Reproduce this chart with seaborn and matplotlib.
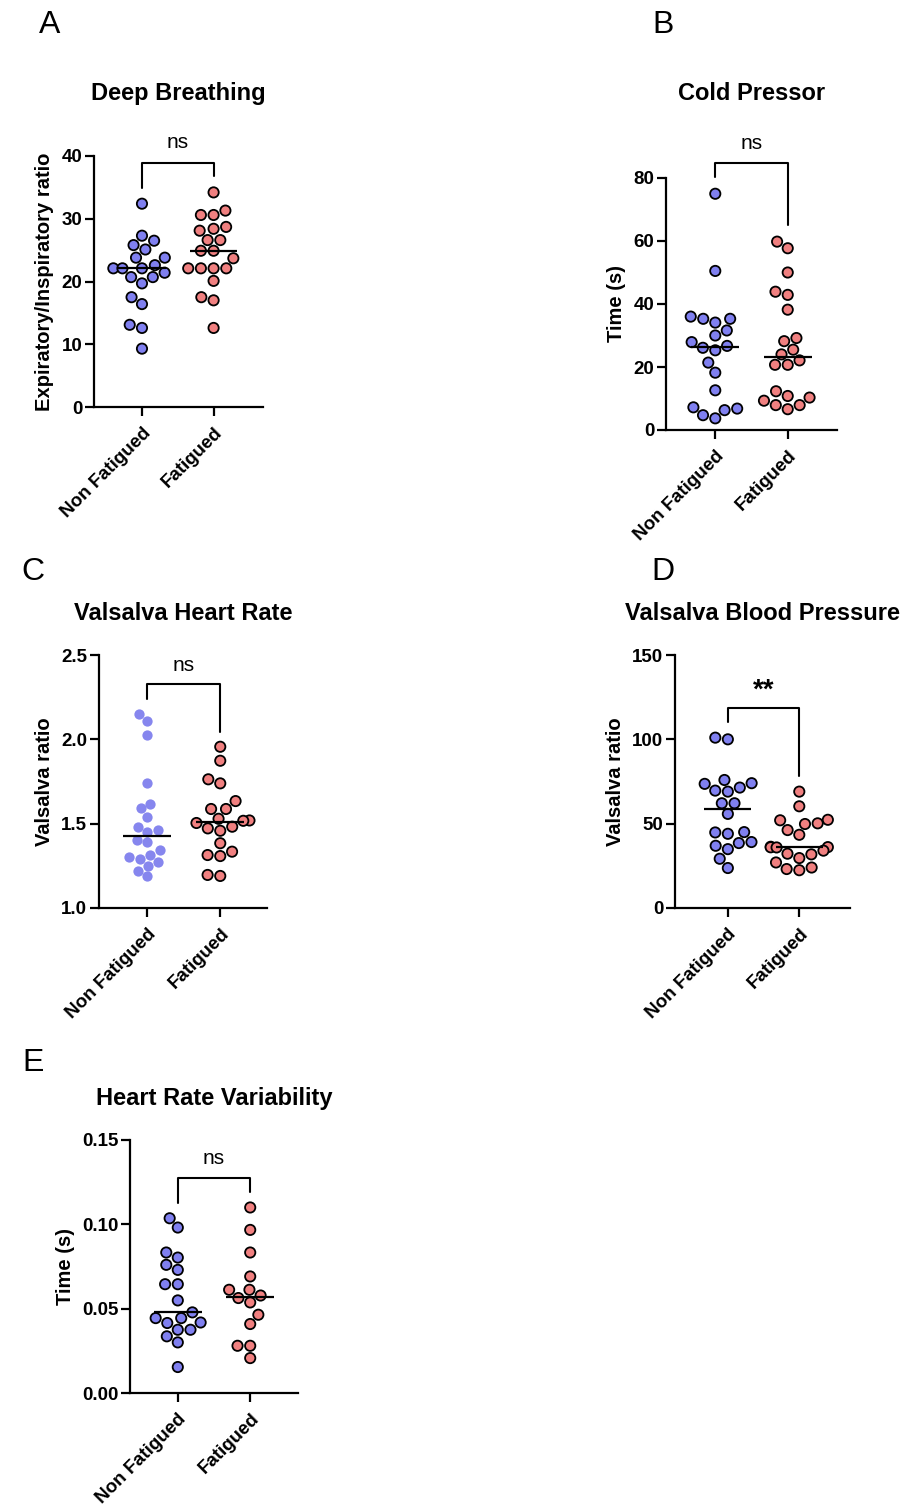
import numpy as np
import pandas as pd
import matplotlib
matplotlib.use('Agg')
import matplotlib.pyplot as plt
import seaborn as sns
import warnings
warnings.filterwarnings('ignore')

sns.set_theme(style='ticks')
plt.rcParams['font.family'] = ['Liberation Sans', 'DejaVu Sans']
plt.rcParams['text.color'] = 'black'
plt.rcParams['axes.labelcolor'] = 'black'
plt.rcParams['axes.titlecolor'] = 'black'

groups = ['Non Fatigued', 'Fatigued']

deep_nf = [32.4, 27.3, 26.5, 25.8, 25.1, 23.8, 23.8, 22.6, 22.1, 22.1, 22.1, 21.4, 20.7, 20.7, 19.7, 17.5, 16.4, 13.1, 12.6, 9.3]
deep_f = [34.2, 31.3, 30.6, 30.6, 28.7, 28.4, 28.1, 26.6, 26.6, 24.9, 24.9, 23.7, 22.1, 22.1, 22.1, 22.1, 20.1, 17.5, 17.0, 12.6]
cold_nf = [75.0, 50.5, 36.0, 35.3, 35.3, 34.1, 31.6, 30.0, 27.9, 26.7, 26.1, 25.3, 21.4, 18.2, 12.6, 7.2, 6.8, 6.3, 4.7, 3.7]
cold_f = [59.8, 57.7, 50.0, 43.9, 42.9, 38.2, 29.2, 28.2, 25.5, 24.0, 22.1, 20.7, 20.7, 12.3, 10.8, 10.3, 9.3, 7.9, 7.9, 6.6]
vhr_nf = [2.150, 2.110, 2.024, 1.744, 1.615, 1.590, 1.542, 1.483, 1.460, 1.450, 1.404, 1.389, 1.341, 1.316, 1.302, 1.292, 1.270, 1.250, 1.221, 1.187]
vhr_f = [1.956, 1.873, 1.763, 1.739, 1.634, 1.587, 1.587, 1.529, 1.519, 1.517, 1.504, 1.482, 1.472, 1.458, 1.384, 1.334, 1.314, 1.308, 1.196, 1.190]
vbp_nf = [101.0, 100.0, 75.9, 74.0, 73.6, 71.4, 69.6, 69.0, 62.1, 62.1, 55.8, 45.0, 44.8, 44.0, 39.1, 38.5, 36.9, 34.9, 29.2, 23.7]
vbp_f = [69.0, 60.3, 52.3, 52.0, 50.2, 49.8, 46.2, 43.4, 36.3, 36.1, 36.0, 35.9, 34.0, 32.2, 31.8, 29.6, 27.0, 24.0, 23.1, 22.4]
hrv_nf = [0.1036, 0.0981, 0.0833, 0.0803, 0.0760, 0.0730, 0.0645, 0.0645, 0.0549, 0.0478, 0.0444, 0.0444, 0.0418, 0.0415, 0.0375, 0.0375, 0.0336, 0.0300, 0.0154]
hrv_f = [0.1100, 0.0967, 0.0833, 0.0691, 0.0612, 0.0612, 0.0578, 0.0563, 0.0537, 0.0464, 0.0409, 0.0280, 0.0280, 0.0207]

titles = ['Deep Breathing', 'Cold Pressor', 'Valsalva Heart Rate', 'Valsalva Blood Pressure', 'Heart Rate Variability']
ylabels = ['Expiratory/Inspiratory ratio', 'Time (s)', 'Valsalva ratio', 'Valsalva ratio', 'Time (s)']
letters = ['A', 'B', 'C', 'D', 'E']
yticks = [[0, 10, 20, 30, 40], [0, 20, 40, 60, 80], [1.0, 1.5, 2.0, 2.5], [0, 50, 100, 150], [0.00, 0.05, 0.10, 0.15]]
ytick_labels = [['0', '10', '20', '30', '40'], ['0', '20', '40', '60', '80'], ['1.0', '1.5', '2.0', '2.5'],
                ['0', '50', '100', '150'], ['0.00', '0.05', '0.10', '0.15']]
sig_labels = ['ns', 'ns', 'ns', '**', 'ns']
# bracket: top, left end, right end, label y
brackets = [(38.9, 34.9, 36.8, 42.1), (84.9, 80.4, 65.1, 91.1), (2.328, 2.237, 2.045, 2.44),
            (118.4, 110.4, 78.2, 128.6), (0.1277, 0.1128, 0.1194, 0.1393)]

datasets = [(deep_nf, deep_f), (cold_nf, cold_f), (vhr_nf, vhr_f), (vbp_nf, vbp_f), (hrv_nf, hrv_f)]

W, H = 912, 1504
fig = plt.figure(figsize=(W / 100, H / 100), dpi=100)

# axes boxes in pixels: left, right, top, bottom
boxes = [(94, 263, 156, 407), (666, 837, 178, 430), (99, 267, 655, 908), (675, 850, 655, 908), (130, 298, 1140, 1393)]
xlims = [(-0.67, 1.69), (-0.68, 1.68), (-0.66, 1.64), (-0.74, 1.71), (-0.66, 1.66)]
title_pads = [40, 56, 25, 25, 25]
letter_pos = [(50, 25), (663, 25), (33, 572), (663, 572), (33, 1063)]

blue = '#8080f0'
red = '#f08080'

for i in range(5):
    l, r, t, b = boxes[i]
    ax = fig.add_axes([l / W, 1 - b / H, (r - l) / W, (b - t) / H])
    nf, f = datasets[i]
    df = pd.DataFrame({'group': [groups[0]] * len(nf) + [groups[1]] * len(f),
                       'value': list(nf) + list(f)})
    sns.swarmplot(data=df, x='group', y='value', hue='group', order=groups, hue_order=groups,
                  palette={groups[0]: blue, groups[1]: red}, size=7.4, linewidth=1.3,
                  edgecolor='black', legend=False, ax=ax, zorder=3)
    if i == 2:
        ax.collections[0].set_linewidth(0)
        ax.collections[0].set_facecolor('#8686ee')
    for j, vals in enumerate((nf, f)):
        ax.hlines(np.median(vals), j - 0.33, j + 0.33, color='black', lw=1.6, zorder=5)
    ax.set_xlim(*xlims[i])
    ax.set_ylim(yticks[i][0], yticks[i][-1])
    ax.set_yticks(yticks[i])
    ax.set_yticklabels(ytick_labels[i], fontsize=13.5, fontweight='bold')
    ax.set_xticks([0, 1])
    ax.set_xticklabels(groups, fontsize=13.5, fontweight='bold', rotation=45, ha='right',
                       rotation_mode='anchor')
    ax.set_xlabel('')
    ax.set_ylabel(ylabels[i], fontsize=14.5, fontweight='bold', labelpad=5)
    for s in ['top', 'right']:
        ax.spines[s].set_visible(False)
    for s in ['left', 'bottom']:
        ax.spines[s].set_linewidth(1.6)
        ax.spines[s].set_color('black')
    ax.tick_params(axis='both', length=6.5, width=1.6, color='black', labelcolor='black')
    ax.tick_params(axis='y', pad=2)
    ax.tick_params(axis='x', pad=6)
    ax.set_title(titles[i], fontsize=17, fontweight='bold', pad=title_pads[i])
    top, le, re, ly = brackets[i]
    ax.plot([0, 0, 1, 1], [le, top, top, re], color='black', lw=1.5, clip_on=False, zorder=4)
    if sig_labels[i] == '**':
        ax.text(0.5, ly, sig_labels[i], ha='center', va='center', fontsize=20, fontweight='bold')
    else:
        ax.text(0.5, ly, sig_labels[i], ha='center', va='center', fontsize=15)
    lx, lyp = letter_pos[i]
    fig.text(lx / W, 1 - lyp / H, letters[i], ha='center', va='center', fontsize=23)

fig.savefig('out.png', dpi=100, facecolor='white')
